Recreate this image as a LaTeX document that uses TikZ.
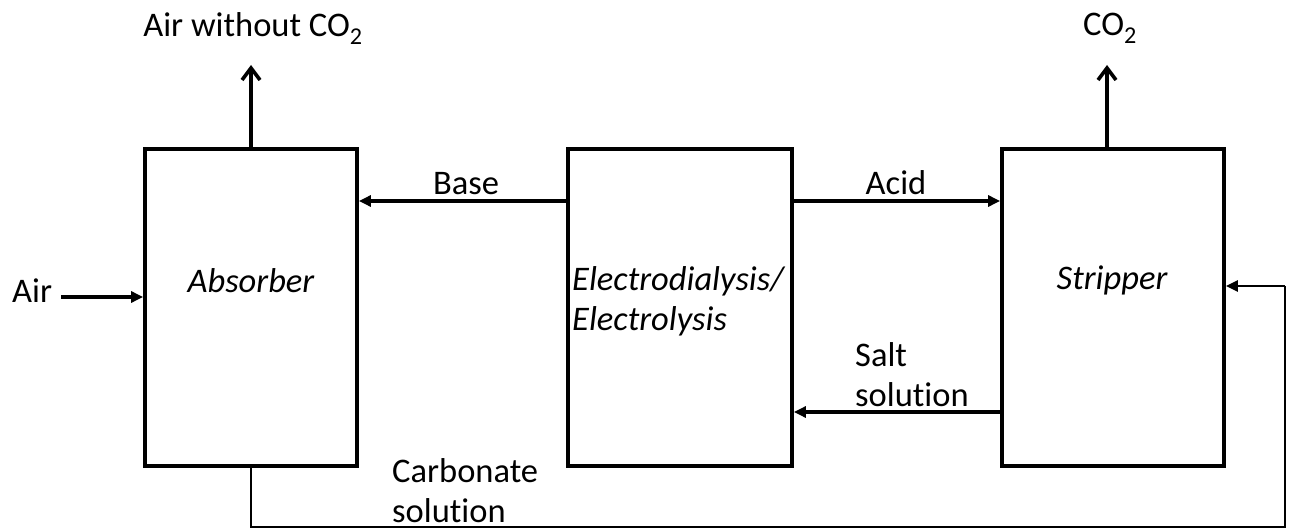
\documentclass[tikz,border=0pt]{standalone}
\usepackage{fontspec}
\setmainfont{Carlito}[Ligatures=NoCommon]
\usetikzlibrary{arrows.meta}
\begin{document}
\begin{tikzpicture}[x=1pt,y=-1pt,
  box/.style={draw,line width=3.8pt,minimum width=#1,minimum height=317pt,inner sep=0pt},
  lbl/.style={inner sep=0pt,anchor=base,font=\fontsize{34.5}{40}\selectfont},
  ilbl/.style={lbl,font=\fontsize{34.5}{40}\selectfont\itshape},
  flow/.style={line width=3.2pt,-{Triangle[length=12pt,width=11pt]}},
  upflow/.style={line width=3.6pt,-{Straight Barb[length=12pt,width=18pt]}},
  ret/.style={line width=2.5pt}]
\useasboundingbox (0,0) rectangle (1292,529);
% boxes
\node[box=212pt] (abs) at (251,307.5) {};
\node[box=224pt] (ele) at (680,307.5) {};
\node[box=222pt] (str) at (1113,307.5) {};
% box texts
\node[ilbl] (abst) at (251,292) {Absorber};
\node[ilbl,anchor=base west] (elet1) at (572,290) {Electrodialysis/};
\node[ilbl,anchor=base west] (elet2) at (572,330) {Electrolysis};
\node[ilbl] (strt) at (1112,289) {Stripper};
% top outputs
\coordinate (absout) at (251,65);
\coordinate (strout) at (1107,65);
\draw[upflow] (abs.north) -- (absout);
\draw[upflow] (str.north -| strout) -- (strout);
\node[lbl] (airout) at (253,37) {Air without CO\textsubscript{2}};
\node[lbl] (co2) at (1110,36) {CO\textsubscript{2}};
% air in
\node[lbl,anchor=base west] (air) at (12,302) {Air};
\coordinate (airin) at (61,297);
\draw[flow] (airin) -- (airin -| abs.west);
% base / acid
\coordinate (by) at (0,201);
\draw[flow] (ele.west |- by) -- (abs.east |- by);
\draw[flow] (ele.east |- by) -- (str.west |- by);
\node[lbl] (base) at (466,195) {Base};
\node[lbl] (acid) at (896,195) {Acid};
% salt solution
\coordinate (sy) at (0,412);
\draw[flow] (str.west |- sy) -- (ele.east |- sy);
\node[lbl,anchor=base west] (salt1) at (855,366) {Salt};
\node[lbl,anchor=base west] (salt2) at (855,406) {solution};
% carbonate return
\coordinate (c1) at (251,527);
\coordinate (c2) at (1285,527);
\coordinate (c3) at (1285,286);
\draw[ret] (abs.south) -- (c1) -- (c2) -- (c3);
\draw[flow,line width=2.7pt] (c3) -- (str.east |- c3);
\node[lbl,anchor=base west] (carb1) at (392,482) {Carbonate};
\node[lbl,anchor=base west] (carb2) at (392,522) {solution};
\end{tikzpicture}
\end{document}
